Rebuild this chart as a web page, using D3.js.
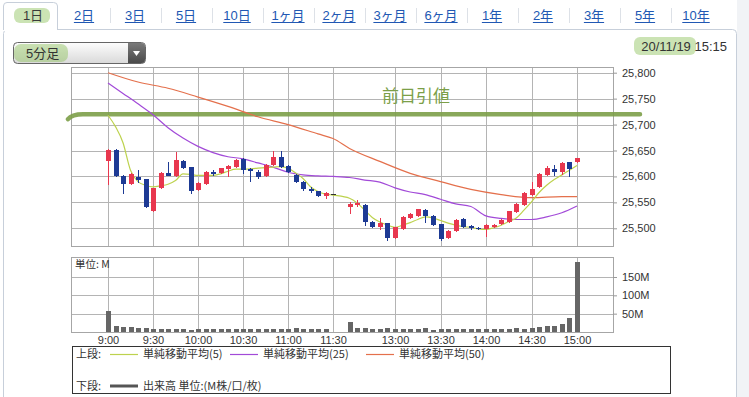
<!DOCTYPE html>
<html>
<head>
<meta charset="utf-8">
<script src="https://cdn.jsdelivr.net/npm/d3@7"></script>
<style>
  body { margin: 0; background: #fff; }
  svg { display: block; font-family: "Liberation Sans", "Noto Sans CJK JP", sans-serif; }
</style>
</head>
<body>
<svg id="chart" width="749" height="397"></svg>
<script>
// ---- data ----
const tabLabels = ["1日", "2日", "3日", "5日", "10日", "1ヶ月", "2ヶ月", "3ヶ月", "6ヶ月", "1年", "2年", "3年", "5年", "10年"]
const intervalLabel = "5分足"
const stampDate = "20/11/19"
const stampTime = "15:15"

const times = [
  "9:00","9:05","9:10","9:15","9:20","9:25","9:30","9:35","9:40","9:45","9:50","9:55",
  "10:00","10:05","10:10","10:15","10:20","10:25","10:30","10:35","10:40","10:45","10:50","10:55",
  "11:00","11:05","11:10","11:15","11:20","11:25","11:30",
  "12:30","12:35","12:40","12:45","12:50","12:55",
  "13:00","13:05","13:10","13:15","13:20","13:25","13:30","13:35","13:40","13:45","13:50","13:55",
  "14:00","14:05","14:10","14:15","14:20","14:25","14:30","14:35","14:40","14:45","14:50","14:55",
  "15:00"
]
const opens = [
  25629,25651,25601,25585,25598,25595,25534,25577,25606,25600,25630,25618,
  25574,25586,25609,25606,25614,25619,25634,25614,25608,25600,25622,25638,
  25621,25603,25589,25575,25571,25563,25567,
  25541,25544,25545,25513,25503,25510,
  25481,25498,25519,25524,25535,25524,25508,25481,25494,25517,25504,25501,
  25499,25503,25508,25513,25531,25545,25564,25580,25603,25614,25609,25627,
  25627
]
const highs = [
  25653,25652,25603,25607,25612,25596,25578,25609,25628,25647,25632,25619,
  25590,25610,25613,25617,25622,25634,25636,25616,25612,25624,25649,25649,
  25623,25605,25591,25580,25572,25570,25567,
  25551,25555,25547,25515,25519,25511,
  25503,25523,25529,25538,25537,25525,25509,25496,25517,25520,25507,25503,
  25508,25508,25518,25534,25548,25570,25590,25606,25620,25622,25627,25628,
  25636
]
const lows = [
  25583,25598,25567,25583,25587,25540,25532,25575,25600,25598,25614,25567,
  25571,25584,25600,25604,25598,25617,25604,25590,25596,25598,25620,25617,
  25606,25587,25571,25569,25561,25556,25567,
  25527,25542,25505,25501,25497,25476,
  25479,25496,25517,25522,25510,25504,25476,25479,25492,25500,25496,25497,
  25483,25501,25506,25511,25529,25543,25562,25578,25601,25601,25603,25598,
  25626
]
const closes = [
  25651,25600,25585,25605,25593,25542,25577,25607,25601,25632,25616,25572,
  25588,25609,25605,25616,25621,25632,25612,25610,25598,25623,25638,25619,
  25608,25589,25576,25573,25563,25569,25567,
  25547,25548,25513,25503,25510,25481,
  25502,25522,25528,25537,25524,25506,25479,25495,25516,25503,25500,25499,
  25506,25507,25516,25533,25546,25568,25575,25605,25616,25609,25625,25614,
  25635
]
// volume, millions
const volumes = [
  56,16,15,13,10,10,9,9,9,8,9,6,
  7,7,7,7,7,8,7,9,8,7,7,8,
  9,11,9,7,7,7,0.5,
  27,12,12,9,9,10,
  9,8,9,8,10,6,7,7,7,8,7,7,
  9,7,7,9,11,9,11,15,16,16,22,37,
  190
]

const ma5 = [
  ["9:00",25718],["9:05",25696],["9:10",25665],["9:15",25612],["9:20",25590],["9:25",25583],
  ["9:30",25580],["9:35",25582],["9:40",25585],["9:45",25592],["9:50",25605],["9:55",25604],
  ["10:00",25602],["10:05",25602],["10:10",25602],["10:15",25605],["10:20",25610],["10:25",25614],
  ["10:30",25614],["10:40",25616],["10:50",25618],["10:55",25619],["11:00",25616],["11:05",25607],
  ["11:10",25596],["11:15",25580],["11:20",25571],["11:25",25566],["11:30",25564],
  ["12:30",25558],["12:35",25549],["12:40",25535],["12:45",25521],["12:50",25512],["12:55",25506],
  ["13:00",25502],["13:05",25506],["13:10",25511],["13:15",25517],["13:20",25522],["13:25",25520],
  ["13:30",25515],["13:35",25510],["13:40",25506],["13:45",25503],["13:50",25502],["13:55",25499],
  ["14:00",25498],["14:05",25501],["14:10",25506],["14:15",25513],["14:20",25520],["14:25",25535],
  ["14:30",25551],["14:35",25569],["14:40",25583],["14:45",25594],["14:50",25603],["14:55",25612],
  ["15:00",25621]
]
const ma25 = [
  ["9:00",25780],["9:10",25760],["9:20",25740],["9:30",25719],["9:40",25694],["9:50",25674],
  ["10:00",25658],["10:10",25646],["10:20",25638],["10:30",25634],["10:40",25626],["10:50",25618],
  ["11:00",25608],["11:10",25603],["11:20",25601],["11:30",25600],["12:30",25598],["12:40",25593],
  ["12:50",25589],["13:00",25578],["13:10",25570],["13:20",25565],["13:30",25556],["13:40",25547],
  ["13:50",25542],["14:00",25524],["14:10",25519],["14:20",25517],["14:30",25517],["14:40",25522],
  ["14:50",25530],["15:00",25543]
]
const ma50 = [
  ["9:00",25800],["9:20",25782],["9:40",25770],["10:00",25753],["10:20",25735],["10:40",25715],
  ["11:00",25700],["11:20",25682],["11:30",25673],["12:30",25654],["12:50",25629],["13:10",25606],
  ["13:30",25590],["13:50",25575],["14:10",25565],["14:30",25559],["14:50",25561],["15:00",25561]
]
const prevClose = 25720

const priceTicks = [25500, 25550, 25600, 25650, 25700, 25750, 25800]
const volumeTicks = [50, 100, 150]
const timeTicks = ["9:00","9:30","10:00","10:30","11:00","11:30","13:00","13:30","14:00","14:30","15:00"]

// ---- layout ----
const svg = d3.select("#chart")
const plot = {left: 71, right: 613, top: 67, bottom: 246}
const volPlot = {top: 257, bottom: 332}
const crisp = v => Math.round(v) + 0.5

const clock = s => { const [h, m] = s.split(":").map(Number); return h * 60 + m }

// lunch break squeezed out of the time axis
const x = d3.scaleLinear()
  .domain([clock("9:00"), clock("11:30"), clock("12:30"), clock("15:00")])
  .range([108, 333, 349.5, 577])
const y = d3.scaleLinear().domain([25500, 25800]).range([228.3, 72.7])
const yVol = d3.scaleLinear().domain([0, 150]).range([volPlot.bottom, 277])

const upColor = "#e8374e"
const downColor = "#1d3a94"
const ma5Color = "#bdd24e"
const ma25Color = "#a24ad8"
const ma50Color = "#e4704c"
const highlight = "rgba(140,192,88,0.45)"
const annotColor = "#7c9f48"

// ---- tabs ----
const tabX = d3.scalePoint().domain(tabLabels).range([33, 696])

svg.append("rect").attr("x", 3.5).attr("y", 29.5).attr("width", 733).attr("height", 380)
  .attr("rx", 4).attr("fill", "#fff").attr("stroke", "#c7cfda")
svg.append("rect").attr("x", 737).attr("y", 0).attr("width", 12).attr("height", 397).attr("fill", "#f1f3f6")

svg.append("path")
  .attr("d", "M3.5,30 L3.5,6 Q3.5,2.5 7,2.5 L53.5,2.5 Q57.5,2.5 57.5,6 L57.5,30")
  .attr("fill", "#fff").attr("stroke", "#c7cfda")
svg.append("rect").attr("x", 4).attr("y", 28).attr("width", 53).attr("height", 3).attr("fill", "#fff")

svg.append("rect").attr("x", 14).attr("y", 8).attr("width", 36).attr("height", 15).attr("rx", 6)
  .attr("fill", highlight)

tabLabels.forEach((label, i) => {
  const cx = tabX(label)
  const t = svg.append("text")
    .attr("x", cx).attr("y", 20).attr("text-anchor", "middle")
    .attr("font-size", 13)
    .attr("fill", i === 0 ? "#3a3a3a" : "#2158b3")
    .text(label)
  if (i > 0) {
    const w = t.node().getComputedTextLength()
    svg.append("line").attr("x1", cx - w / 2).attr("x2", cx + w / 2)
      .attr("y1", 22.5).attr("y2", 22.5).attr("stroke", "#2158b3")
  }
  if (i > 1) {
    const mid = crisp((tabX(tabLabels[i - 1]) + cx) / 2)
    svg.append("line").attr("x1", mid).attr("x2", mid).attr("y1", 8).attr("y2", 23)
      .attr("stroke", "#dde1e7")
  }
})

// ---- interval dropdown ----
const grad = svg.append("defs").append("linearGradient").attr("id", "dd").attr("x2", 0).attr("y2", 1)
grad.append("stop").attr("offset", 0).attr("stop-color", "#fdfdfd")
grad.append("stop").attr("offset", 1).attr("stop-color", "#d9d9d9")
const btnGrad = svg.select("defs").append("linearGradient").attr("id", "ddb").attr("x2", 0).attr("y2", 1)
btnGrad.append("stop").attr("offset", 0).attr("stop-color", "#7a7a7a")
btnGrad.append("stop").attr("offset", 1).attr("stop-color", "#4a4a4a")

svg.append("rect").attr("x", 13.5).attr("y", 42.5).attr("width", 132).attr("height", 21).attr("rx", 4)
  .attr("fill", "url(#dd)").attr("stroke", "#666")
svg.append("path").attr("d", "M128,43 L141.5,43 Q145,43 145,46.5 L145,59.5 Q145,63 141.5,63 L128,63 Z")
  .attr("fill", "url(#ddb)")
svg.append("path").attr("d", "M133,51 L140,51 L136.5,56 Z").attr("fill", "#fff")
svg.append("rect").attr("x", 14).attr("y", 44).attr("width", 54).attr("height", 18).attr("rx", 7)
  .attr("fill", highlight)
svg.append("text").attr("x", 26).attr("y", 58).attr("font-size", 13).attr("fill", "#333").text(intervalLabel)

// ---- date stamp ----
svg.append("rect").attr("x", 634).attr("y", 37).attr("width", 62).attr("height", 18).attr("rx", 6)
  .attr("fill", highlight)
svg.append("text").attr("x", 727).attr("y", 51).attr("text-anchor", "end").attr("font-size", 13)
  .attr("fill", "#333").text(`${stampDate} ${stampTime}`)

// ---- grids ----
function drawGrid(top, bottom, hValues, yScale) {
  const g = svg.append("g").attr("stroke", "#b4b4b4").attr("shape-rendering", "crispEdges")
  g.selectAll(".h").data(hValues).join("line")
    .attr("x1", plot.left).attr("x2", plot.right)
    .attr("y1", d => crisp(yScale(d))).attr("y2", d => crisp(yScale(d)))
  g.selectAll(".v").data(timeTicks).join("line")
    .attr("x1", d => crisp(x(clock(d)))).attr("x2", d => crisp(x(clock(d))))
    .attr("y1", top).attr("y2", bottom)
  svg.append("rect").attr("x", plot.left + 0.5).attr("y", top + 0.5)
    .attr("width", plot.right - plot.left).attr("height", bottom - top)
    .attr("fill", "none").attr("stroke", "#a6a6a6")
}
drawGrid(plot.top, plot.bottom, priceTicks, y)
drawGrid(volPlot.top, volPlot.bottom, volumeTicks, yVol)

// ---- axes ----
const axisFont = g => g.call(a => a.select(".domain").remove())
  .attr("font-family", "Liberation Sans, sans-serif").attr("font-size", 11)
  .call(a => a.selectAll("text").attr("fill", "#333"))
  .call(a => a.selectAll("line").attr("stroke", "#999"))

svg.append("g").attr("transform", `translate(${plot.right},0)`)
  .call(d3.axisRight(y).tickValues(priceTicks).tickSize(4).tickPadding(5).tickFormat(d3.format(",")))
  .call(axisFont)
svg.append("g").attr("transform", `translate(${plot.right},0)`)
  .call(d3.axisRight(yVol).tickValues(volumeTicks).tickSize(4).tickPadding(5).tickFormat(d => d + "M"))
  .call(axisFont)
svg.append("g").attr("transform", `translate(0,${volPlot.bottom})`)
  .call(d3.axisBottom(x).tickValues(timeTicks.map(clock)).tickSize(0).tickPadding(4)
    .tickFormat((d, i) => timeTicks[i]))
  .call(axisFont)

// ---- previous close annotation ----
const yPrev = y(prevClose)
const annot = d3.path()
annot.moveTo(plot.left - 3, yPrev + 5)
annot.quadraticCurveTo(plot.left + 1, yPrev, plot.left + 12, yPrev)
annot.lineTo(plot.right + 27, yPrev)
svg.append("path").attr("d", annot.toString()).attr("fill", "none")
  .attr("stroke", annotColor).attr("stroke-width", 4.5).attr("stroke-linecap", "round").attr("opacity", 0.9)
svg.append("text").attr("x", 382).attr("y", 102).attr("font-size", 17)
  .attr("font-family", "Noto Sans CJK JP").attr("fill", annotColor).text("前日引値")

// ---- moving averages ----
const maLine = d3.line().x(d => x(clock(d[0]))).y(d => y(d[1])).curve(d3.curveMonotoneX)
;[[ma50, ma50Color], [ma25, ma25Color], [ma5, ma5Color]].forEach(([data, color]) => {
  svg.append("path").datum(data).attr("d", maLine)
    .attr("fill", "none").attr("stroke", color).attr("stroke-width", 1.2)
})

// ---- candles ----
const candles = times.map((t, i) => ({t, o: opens[i], h: highs[i], l: lows[i], c: closes[i], v: volumes[i]}))
const candleColor = d => d.c > d.o ? upColor : d.c < d.o ? downColor : "#333"
const cg = svg.append("g").attr("shape-rendering", "crispEdges")
cg.selectAll(".wick").data(candles).join("line")
  .attr("x1", d => crisp(x(clock(d.t)))).attr("x2", d => crisp(x(clock(d.t))))
  .attr("y1", d => y(d.h)).attr("y2", d => y(d.l))
  .attr("stroke", candleColor)
cg.selectAll(".body").data(candles).join("rect")
  .attr("x", d => Math.round(x(clock(d.t))) - 2)
  .attr("width", 5)
  .attr("y", d => y(Math.max(d.o, d.c)))
  .attr("height", d => Math.max(1.2, Math.abs(y(d.o) - y(d.c))))
  .attr("fill", candleColor)

// ---- volume ----
svg.append("g").attr("shape-rendering", "crispEdges")
  .selectAll("rect").data(candles).join("rect")
  .attr("x", d => Math.round(x(clock(d.t))) - 2)
  .attr("width", 5)
  .attr("y", d => yVol(d.v))
  .attr("height", d => yVol(0) - yVol(d.v))
  .attr("fill", "#666")
svg.append("text").attr("x", 75).attr("y", 268).attr("font-size", 10.5).attr("fill", "#333")
  .attr("font-family", "Noto Sans CJK JP").text("単位: M")

// ---- legend ----
const legend = svg.append("g").attr("font-family", "Noto Sans CJK JP").attr("font-size", 11).attr("fill", "#333")
legend.append("rect").attr("x", 72.5).attr("y", 346.5).attr("width", 598).attr("height", 47)
  .attr("fill", "#fff").attr("stroke", "#333")
legend.append("text").attr("x", 76).attr("y", 358).text("上段:")
const legendItems = [
  {label: "単純移動平均(5)", color: ma5Color, x0: 110},
  {label: "単純移動平均(25)", color: ma25Color, x0: 230},
  {label: "単純移動平均(50)", color: ma50Color, x0: 366}
]
legendItems.forEach(item => {
  legend.append("line").attr("x1", item.x0).attr("x2", item.x0 + 28).attr("y1", 354.5).attr("y2", 354.5)
    .attr("stroke", item.color).attr("stroke-width", 1.2)
  legend.append("text").attr("x", item.x0 + 33).attr("y", 358).text(item.label)
})
legend.append("text").attr("x", 76).attr("y", 390).text("下段:")
legend.append("line").attr("x1", 110).attr("x2", 138).attr("y1", 386).attr("y2", 386)
  .attr("stroke", "#555").attr("stroke-width", 3)
legend.append("text").attr("x", 143).attr("y", 390).text("出来高 単位:(M株/口/枚)")
</script>
</body>
</html>
